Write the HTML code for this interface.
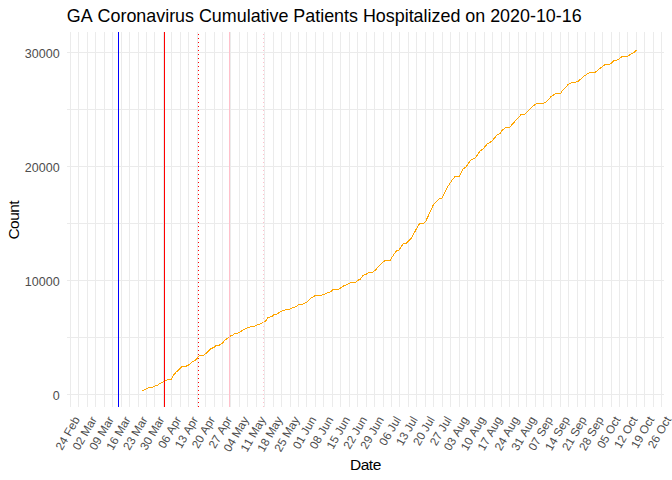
<!DOCTYPE html><html><head><meta charset="utf-8"><style>html,body{margin:0;padding:0;background:#fff;}svg{display:block;}text{font-family:"Liberation Sans",sans-serif;}</style></head><body>
<svg width="672" height="480" viewBox="0 0 672 480">
<rect width="672" height="480" fill="#fff"/>
<path d="M70.5 32V407M78.5 32V407M87.5 32V407M95.5 32V407M104.5 32V407M112.5 32V407M121.5 32V407M129.5 32V407M138.5 32V407M146.5 32V407M154.5 32V407M163.5 32V407M171.5 32V407M180.5 32V407M188.5 32V407M197.5 32V407M205.5 32V407M214.5 32V407M222.5 32V407M230.5 32V407M239.5 32V407M247.5 32V407M256.5 32V407M264.5 32V407M273.5 32V407M281.5 32V407M290.5 32V407M298.5 32V407M306.5 32V407M315.5 32V407M323.5 32V407M332.5 32V407M340.5 32V407M349.5 32V407M357.5 32V407M366.5 32V407M374.5 32V407M383.5 32V407M391.5 32V407M399.5 32V407M408.5 32V407M416.5 32V407M425.5 32V407M433.5 32V407M442.5 32V407M450.5 32V407M459.5 32V407M467.5 32V407M475.5 32V407M484.5 32V407M492.5 32V407M501.5 32V407M509.5 32V407M518.5 32V407M526.5 32V407M535.5 32V407M543.5 32V407M551.5 32V407M560.5 32V407M568.5 32V407M577.5 32V407M585.5 32V407M594.5 32V407M602.5 32V407M611.5 32V407M619.5 32V407M627.5 32V407M636.5 32V407M644.5 32V407M653.5 32V407M661.5 32V407M67 52.5H664M67 109.5H664M67 166.5H664M67 223.5H664M67 280.5H664M67 337.5H664M67 394.5H664" stroke="#EBEBEB" stroke-width="1" fill="none" shape-rendering="crispEdges"/>
<polyline points="142.5,390.6 147.1,388.5 150.0,387.3 152.5,387.3 154.6,386.2 157.1,385.4 160.4,383.3 163.3,381.8 168.8,379.3 171.5,379.3 173.3,375.4 176.2,372.1 178.3,370.4 182.5,366.2 186.2,366.2 190.0,364.2 192.5,361.5 195.4,360.4 197.9,357.5 199.2,355.4 203.3,355.4 205.0,354.3 211.2,348.5 214.2,347.3 216.2,345.4 218.8,345.4 222.5,343.3 224.2,340.7 226.2,339.2 230.4,336.0 232.5,335.2 234.6,333.3 237.5,333.3 240.0,332.1 243.8,329.3 246.7,328.3 250.8,326.5 254.6,326.5 257.5,324.6 259.6,324.3 262.9,322.3 265.4,321.5 267.5,317.9 268.8,317.3 272.1,316.2 274.2,314.6 276.2,314.3 281.7,311.2 283.8,310.4 286.7,309.3 290.0,309.2 293.3,307.5 296.2,306.5 298.8,304.3 302.5,304.3 306.7,302.3 310.4,298.3 312.9,297.3 315.4,295.4 321.2,295.4 324.2,294.3 326.7,293.2 330.0,292.1 331.7,290.8 333.3,289.3 338.3,289.3 340.0,288.3 344.6,285.4 347.1,284.6 351.2,282.3 355.4,282.3 357.5,280.4 360.4,279.3 362.9,275.4 366.2,274.3 368.8,272.3 372.5,272.3 375.4,270.0 382.5,262.5 385.4,260.4 390.0,260.4 396.1,251.2 398.8,250.1 403.6,243.4 406.3,243.1 411.0,238.6 419.1,224.1 423.9,223.0 425.9,221.0 433.4,204.7 437.4,200.7 438.4,199.2 441.8,198.5 447.2,187.4 451.9,180.4 455.3,176.3 459.4,176.3 462.8,169.1 466.1,166.8 470.9,160.0 475.0,158.3 479.7,151.5 483.1,148.8 487.1,144.1 489.8,142.4 492.2,140.8 497.4,134.6 500.0,133.5 502.1,130.4 504.7,128.3 506.8,127.3 509.9,127.3 511.4,125.2 521.3,114.3 525.0,114.0 527.6,111.7 529.1,109.6 533.8,105.4 537.0,103.3 543.6,103.3 545.4,102.5 551.2,96.5 554.8,94.1 557.0,93.5 560.6,93.5 561.5,91.7 568.2,84.5 571.4,82.9 573.2,82.2 575.8,82.2 578.5,81.0 583.5,76.5 586.6,74.4 590.2,72.3 595.0,72.3 596.5,71.4 599.4,68.5 601.3,67.7 603.9,65.4 605.8,64.2 609.5,64.2 611.3,63.3 614.3,60.4 616.5,60.4 618.4,59.4 620.6,57.4 622.5,56.5 627.3,56.5 629.2,55.3 631.8,53.5 634.0,52.3 636.6,50.3" fill="none" stroke="#FFA500" stroke-width="1" shape-rendering="crispEdges"/>
<path d="M118.5 32V407" stroke="#0000FF" stroke-width="1" shape-rendering="crispEdges"/>
<path d="M164.5 32V407" stroke="#FF0000" stroke-width="1" shape-rendering="crispEdges"/>
<path d="M198 34h1v1h-1zM198 38h1v1h-1zM198 42h1v1h-1zM198 46h1v1h-1zM198 50h1v1h-1zM198 54h1v1h-1zM198 58h1v1h-1zM198 62h1v1h-1zM198 66h1v1h-1zM198 70h1v1h-1zM198 74h1v1h-1zM198 78h1v1h-1zM198 82h1v1h-1zM198 86h1v1h-1zM198 90h1v1h-1zM198 94h1v1h-1zM198 98h1v1h-1zM198 102h1v1h-1zM198 106h1v1h-1zM198 110h1v1h-1zM198 114h1v1h-1zM198 118h1v1h-1zM198 122h1v1h-1zM198 126h1v1h-1zM198 130h1v1h-1zM198 134h1v1h-1zM198 138h1v1h-1zM198 142h1v1h-1zM198 146h1v1h-1zM198 150h1v1h-1zM198 154h1v1h-1zM198 158h1v1h-1zM198 162h1v1h-1zM198 166h1v1h-1zM198 170h1v1h-1zM198 174h1v1h-1zM198 178h1v1h-1zM198 182h1v1h-1zM198 186h1v1h-1zM198 190h1v1h-1zM198 194h1v1h-1zM198 198h1v1h-1zM198 202h1v1h-1zM198 206h1v1h-1zM198 210h1v1h-1zM198 214h1v1h-1zM198 218h1v1h-1zM198 222h1v1h-1zM198 226h1v1h-1zM198 230h1v1h-1zM198 234h1v1h-1zM198 238h1v1h-1zM198 242h1v1h-1zM198 246h1v1h-1zM198 250h1v1h-1zM198 254h1v1h-1zM198 258h1v1h-1zM198 262h1v1h-1zM198 266h1v1h-1zM198 270h1v1h-1zM198 274h1v1h-1zM198 278h1v1h-1zM198 282h1v1h-1zM198 286h1v1h-1zM198 290h1v1h-1zM198 294h1v1h-1zM198 298h1v1h-1zM198 302h1v1h-1zM198 306h1v1h-1zM198 310h1v1h-1zM198 314h1v1h-1zM198 318h1v1h-1zM198 322h1v1h-1zM198 326h1v1h-1zM198 330h1v1h-1zM198 334h1v1h-1zM198 338h1v1h-1zM198 342h1v1h-1zM198 346h1v1h-1zM198 350h1v1h-1zM198 354h1v1h-1zM198 358h1v1h-1zM198 362h1v1h-1zM198 366h1v1h-1zM198 370h1v1h-1zM198 374h1v1h-1zM198 378h1v1h-1zM198 382h1v1h-1zM198 386h1v1h-1zM198 390h1v1h-1zM198 394h1v1h-1zM198 398h1v1h-1zM198 402h1v1h-1zM198 406h1v1h-1z" fill="#FF0000" shape-rendering="crispEdges"/>
<path d="M229.5 32V407" stroke="#FFC0CB" stroke-width="1" shape-rendering="crispEdges"/>
<path d="M263 34h1v1h-1zM263 38h1v1h-1zM263 42h1v1h-1zM263 46h1v1h-1zM263 50h1v1h-1zM263 54h1v1h-1zM263 58h1v1h-1zM263 62h1v1h-1zM263 66h1v1h-1zM263 70h1v1h-1zM263 74h1v1h-1zM263 78h1v1h-1zM263 82h1v1h-1zM263 86h1v1h-1zM263 90h1v1h-1zM263 94h1v1h-1zM263 98h1v1h-1zM263 102h1v1h-1zM263 106h1v1h-1zM263 110h1v1h-1zM263 114h1v1h-1zM263 118h1v1h-1zM263 122h1v1h-1zM263 126h1v1h-1zM263 130h1v1h-1zM263 134h1v1h-1zM263 138h1v1h-1zM263 142h1v1h-1zM263 146h1v1h-1zM263 150h1v1h-1zM263 154h1v1h-1zM263 158h1v1h-1zM263 162h1v1h-1zM263 166h1v1h-1zM263 170h1v1h-1zM263 174h1v1h-1zM263 178h1v1h-1zM263 182h1v1h-1zM263 186h1v1h-1zM263 190h1v1h-1zM263 194h1v1h-1zM263 198h1v1h-1zM263 202h1v1h-1zM263 206h1v1h-1zM263 210h1v1h-1zM263 214h1v1h-1zM263 218h1v1h-1zM263 222h1v1h-1zM263 226h1v1h-1zM263 230h1v1h-1zM263 234h1v1h-1zM263 238h1v1h-1zM263 242h1v1h-1zM263 246h1v1h-1zM263 250h1v1h-1zM263 254h1v1h-1zM263 258h1v1h-1zM263 262h1v1h-1zM263 266h1v1h-1zM263 270h1v1h-1zM263 274h1v1h-1zM263 278h1v1h-1zM263 282h1v1h-1zM263 286h1v1h-1zM263 290h1v1h-1zM263 294h1v1h-1zM263 298h1v1h-1zM263 302h1v1h-1zM263 306h1v1h-1zM263 310h1v1h-1zM263 314h1v1h-1zM263 318h1v1h-1zM263 322h1v1h-1zM263 326h1v1h-1zM263 330h1v1h-1zM263 334h1v1h-1zM263 338h1v1h-1zM263 342h1v1h-1zM263 346h1v1h-1zM263 350h1v1h-1zM263 354h1v1h-1zM263 358h1v1h-1zM263 362h1v1h-1zM263 366h1v1h-1zM263 370h1v1h-1zM263 374h1v1h-1zM263 378h1v1h-1zM263 382h1v1h-1zM263 386h1v1h-1zM263 390h1v1h-1zM263 394h1v1h-1zM263 398h1v1h-1zM263 402h1v1h-1zM263 406h1v1h-1z" fill="#FFC0CB" shape-rendering="crispEdges"/>
<text x="24.70 31.70 38.70 45.70 52.70" y="58" font-size="12.5" fill="#4D4D4D">30000</text>
<text x="24.70 31.70 38.70 45.70 52.70" y="172" font-size="12.5" fill="#4D4D4D">20000</text>
<text x="24.70 31.70 38.70 45.70 52.70" y="286" font-size="12.5" fill="#4D4D4D">10000</text>
<text x="52.70" y="400" font-size="12.5" fill="#4D4D4D">0</text>
<text x="-36.52 -30.00 -23.47 -20.21 -13.05 -6.52" y="0" font-size="11.73" fill="#4D4D4D" transform="translate(72.98,415.2) rotate(-60)" dy="0.72em">24 Feb</text>
<text x="-36.51 -29.98 -23.46 -20.20 -10.43 -3.91" y="0" font-size="11.73" fill="#4D4D4D" transform="translate(89.87,415.2) rotate(-60)" dy="0.72em">02 Mar</text>
<text x="-36.51 -29.98 -23.46 -20.20 -10.43 -3.91" y="0" font-size="11.73" fill="#4D4D4D" transform="translate(106.77,415.2) rotate(-60)" dy="0.72em">09 Mar</text>
<text x="-36.51 -29.98 -23.46 -20.20 -10.43 -3.91" y="0" font-size="11.73" fill="#4D4D4D" transform="translate(123.66,415.2) rotate(-60)" dy="0.72em">16 Mar</text>
<text x="-36.51 -29.98 -23.46 -20.20 -10.43 -3.91" y="0" font-size="11.73" fill="#4D4D4D" transform="translate(140.55,415.2) rotate(-60)" dy="0.72em">23 Mar</text>
<text x="-36.51 -29.98 -23.46 -20.20 -10.43 -3.91" y="0" font-size="11.73" fill="#4D4D4D" transform="translate(157.45,415.2) rotate(-60)" dy="0.72em">30 Mar</text>
<text x="-34.56 -28.04 -21.51 -18.25 -10.43 -3.91" y="0" font-size="11.73" fill="#4D4D4D" transform="translate(174.34,415.2) rotate(-60)" dy="0.72em">06 Apr</text>
<text x="-34.56 -28.04 -21.51 -18.25 -10.43 -3.91" y="0" font-size="11.73" fill="#4D4D4D" transform="translate(191.23,415.2) rotate(-60)" dy="0.72em">13 Apr</text>
<text x="-34.56 -28.04 -21.51 -18.25 -10.43 -3.91" y="0" font-size="11.73" fill="#4D4D4D" transform="translate(208.13,415.2) rotate(-60)" dy="0.72em">20 Apr</text>
<text x="-34.56 -28.04 -21.51 -18.25 -10.43 -3.91" y="0" font-size="11.73" fill="#4D4D4D" transform="translate(225.02,415.2) rotate(-60)" dy="0.72em">27 Apr</text>
<text x="-38.47 -31.94 -25.42 -22.16 -12.39 -5.87" y="0" font-size="11.73" fill="#4D4D4D" transform="translate(241.91,415.2) rotate(-60)" dy="0.72em">04 May</text>
<text x="-38.47 -31.94 -25.42 -22.16 -12.39 -5.87" y="0" font-size="11.73" fill="#4D4D4D" transform="translate(258.81,415.2) rotate(-60)" dy="0.72em">11 May</text>
<text x="-38.47 -31.94 -25.42 -22.16 -12.39 -5.87" y="0" font-size="11.73" fill="#4D4D4D" transform="translate(275.70,415.2) rotate(-60)" dy="0.72em">18 May</text>
<text x="-38.47 -31.94 -25.42 -22.16 -12.39 -5.87" y="0" font-size="11.73" fill="#4D4D4D" transform="translate(292.59,415.2) rotate(-60)" dy="0.72em">25 May</text>
<text x="-35.22 -28.69 -22.17 -18.91 -13.05 -6.52" y="0" font-size="11.73" fill="#4D4D4D" transform="translate(309.48,415.2) rotate(-60)" dy="0.72em">01 Jun</text>
<text x="-35.22 -28.69 -22.17 -18.91 -13.05 -6.52" y="0" font-size="11.73" fill="#4D4D4D" transform="translate(326.38,415.2) rotate(-60)" dy="0.72em">08 Jun</text>
<text x="-35.22 -28.69 -22.17 -18.91 -13.05 -6.52" y="0" font-size="11.73" fill="#4D4D4D" transform="translate(343.27,415.2) rotate(-60)" dy="0.72em">15 Jun</text>
<text x="-35.22 -28.69 -22.17 -18.91 -13.05 -6.52" y="0" font-size="11.73" fill="#4D4D4D" transform="translate(360.16,415.2) rotate(-60)" dy="0.72em">22 Jun</text>
<text x="-35.22 -28.69 -22.17 -18.91 -13.05 -6.52" y="0" font-size="11.73" fill="#4D4D4D" transform="translate(377.06,415.2) rotate(-60)" dy="0.72em">29 Jun</text>
<text x="-31.30 -24.78 -18.25 -14.99 -9.13 -2.61" y="0" font-size="11.73" fill="#4D4D4D" transform="translate(393.95,415.2) rotate(-60)" dy="0.72em">06 Jul</text>
<text x="-31.30 -24.78 -18.25 -14.99 -9.13 -2.61" y="0" font-size="11.73" fill="#4D4D4D" transform="translate(410.84,415.2) rotate(-60)" dy="0.72em">13 Jul</text>
<text x="-31.30 -24.78 -18.25 -14.99 -9.13 -2.61" y="0" font-size="11.73" fill="#4D4D4D" transform="translate(427.74,415.2) rotate(-60)" dy="0.72em">20 Jul</text>
<text x="-31.30 -24.78 -18.25 -14.99 -9.13 -2.61" y="0" font-size="11.73" fill="#4D4D4D" transform="translate(444.63,415.2) rotate(-60)" dy="0.72em">27 Jul</text>
<text x="-37.18 -30.65 -24.13 -20.87 -13.05 -6.52" y="0" font-size="11.73" fill="#4D4D4D" transform="translate(461.52,415.2) rotate(-60)" dy="0.72em">03 Aug</text>
<text x="-37.18 -30.65 -24.13 -20.87 -13.05 -6.52" y="0" font-size="11.73" fill="#4D4D4D" transform="translate(478.42,415.2) rotate(-60)" dy="0.72em">10 Aug</text>
<text x="-37.18 -30.65 -24.13 -20.87 -13.05 -6.52" y="0" font-size="11.73" fill="#4D4D4D" transform="translate(495.31,415.2) rotate(-60)" dy="0.72em">17 Aug</text>
<text x="-37.18 -30.65 -24.13 -20.87 -13.05 -6.52" y="0" font-size="11.73" fill="#4D4D4D" transform="translate(512.20,415.2) rotate(-60)" dy="0.72em">24 Aug</text>
<text x="-37.18 -30.65 -24.13 -20.87 -13.05 -6.52" y="0" font-size="11.73" fill="#4D4D4D" transform="translate(529.10,415.2) rotate(-60)" dy="0.72em">31 Aug</text>
<text x="-37.18 -30.65 -24.13 -20.87 -13.05 -6.52" y="0" font-size="11.73" fill="#4D4D4D" transform="translate(545.99,415.2) rotate(-60)" dy="0.72em">07 Sep</text>
<text x="-37.18 -30.65 -24.13 -20.87 -13.05 -6.52" y="0" font-size="11.73" fill="#4D4D4D" transform="translate(562.88,415.2) rotate(-60)" dy="0.72em">14 Sep</text>
<text x="-37.18 -30.65 -24.13 -20.87 -13.05 -6.52" y="0" font-size="11.73" fill="#4D4D4D" transform="translate(579.78,415.2) rotate(-60)" dy="0.72em">21 Sep</text>
<text x="-37.18 -30.65 -24.13 -20.87 -13.05 -6.52" y="0" font-size="11.73" fill="#4D4D4D" transform="translate(596.67,415.2) rotate(-60)" dy="0.72em">28 Sep</text>
<text x="-34.55 -28.03 -21.51 -18.25 -9.12 -3.26" y="0" font-size="11.73" fill="#4D4D4D" transform="translate(613.56,415.2) rotate(-60)" dy="0.72em">05 Oct</text>
<text x="-34.55 -28.03 -21.51 -18.25 -9.12 -3.26" y="0" font-size="11.73" fill="#4D4D4D" transform="translate(630.46,415.2) rotate(-60)" dy="0.72em">12 Oct</text>
<text x="-34.55 -28.03 -21.51 -18.25 -9.12 -3.26" y="0" font-size="11.73" fill="#4D4D4D" transform="translate(647.35,415.2) rotate(-60)" dy="0.72em">19 Oct</text>
<text x="-34.55 -28.03 -21.51 -18.25 -9.12 -3.26" y="0" font-size="11.73" fill="#4D4D4D" transform="translate(664.24,415.2) rotate(-60)" dy="0.72em">26 Oct</text>
<text x="66.80 80.71 92.63 97.60 110.51 120.46 126.41 136.36 146.30 156.24 165.18 169.16 175.11 185.05 193.99 198.96 211.87 221.82 236.71 246.66 250.63 260.57 265.54 269.51 278.45 288.40 293.36 305.29 315.23 320.20 324.17 334.12 344.06 349.03 357.97 362.94 375.85 385.79 394.73 404.68 408.65 413.62 423.56 427.53 431.51 440.45 450.39 460.33 465.30 475.25 485.19 490.16 500.10 510.05 519.99 529.93 535.89 545.83 555.78 561.73 571.67" y="21.6" font-size="17.9" fill="#000">GA Coronavirus Cumulative Patients Hospitalized on 2020-10-16</text>
<text x="-19.44 -8.92 -0.81 7.29 15.39" y="0" font-size="15.5" fill="#000" transform="translate(18.9,220) rotate(-90)">Count</text>
<text x="350.11 360.63 368.74 372.78" y="469.8" font-size="15.5" fill="#000">Date</text>
</svg></body></html>
